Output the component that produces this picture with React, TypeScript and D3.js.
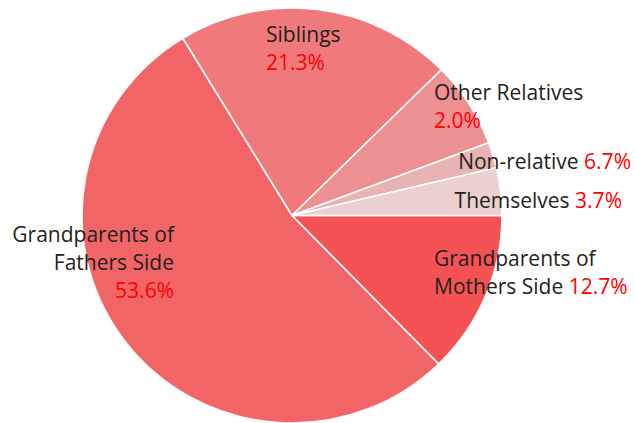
import React from "react";
import * as d3 from "d3";

const categories = [
  "Grandparents of Mothers Side",
  "Grandparents of Fathers Side",
  "Siblings",
  "Other Relatives",
  "Non-relative",
  "Themselves",
];
// slice sizes as drawn
const values = [12.7, 53.6, 21.3, 6.7, 2.0, 3.7];
// percentage texts as printed next to each category
const percentLabels = ["12.7%", "53.6%", "21.3%", "2.0%", "6.7%", "3.7%"];
const colors = ["#f45254", "#f26566", "#f07a7b", "#ed9091", "#e8b3b3", "#ebd0cf"];

const W = 635;
const H = 423;
const cx = 292;
const cy = 215.5;
const R = 210;
const yScale = 207.5 / 210;

type Lbl = { lines: { text: string; pct?: string }[]; x: number; y: number; anchor: "start" | "end" };

const labelLayout: Lbl[] = [
  { lines: [{ text: "Grandparents of" }, { text: "Mothers Side ", pct: percentLabels[0] }], x: 434, y: 266, anchor: "start" },
  { lines: [{ text: "Grandparents of" }, { text: "Fathers Side" }, { text: "", pct: percentLabels[1] }], x: 174, y: 242, anchor: "end" },
  { lines: [{ text: "Siblings" }, { text: "", pct: percentLabels[2] }], x: 266, y: 42, anchor: "start" },
  { lines: [{ text: "Other Relatives" }, { text: "", pct: percentLabels[3] }], x: 434, y: 100, anchor: "start" },
  { lines: [{ text: "Non-relative ", pct: percentLabels[4] }], x: 631, y: 169, anchor: "end" },
  { lines: [{ text: "Themselves ", pct: percentLabels[5] }], x: 622, y: 208, anchor: "end" },
];

export default function App() {
  const pie = d3
    .pie<number>()
    .sort(null)
    .value((d) => d)
    .startAngle(Math.PI / 2)
    .endAngle(Math.PI / 2 + 2 * Math.PI);
  const arcs = pie(values);
  const arc = d3.arc<d3.PieArcDatum<number>>().innerRadius(0).outerRadius(R);

  return (
    <svg
      width={W}
      height={H}
      style={{ position: "absolute", left: 0, top: 0, background: "#fff" }}
    >
      <g transform={`translate(${cx},${cy}) scale(1,${yScale})`}>
        {arcs.map((a, i) => (
          <path key={categories[i]} d={arc(a) || ""} fill={colors[i]} stroke="#fff" strokeWidth={1.6} />
        ))}
      </g>
      <g fontFamily="'Open Sans', 'Noto Sans', sans-serif" fontSize={21}>
        {labelLayout.map((l, i) =>
          l.lines.map((ln, j) => (
            <text
              key={`${i}-${j}`}
              x={l.x}
              y={l.y + j * 28}
              textAnchor={l.anchor}
              fill="#231f20"
            >
              {ln.text}
              {ln.pct ? <tspan fill="#ff0000">{ln.pct}</tspan> : null}
            </text>
          ))
        )}
      </g>
    </svg>
  );
}
